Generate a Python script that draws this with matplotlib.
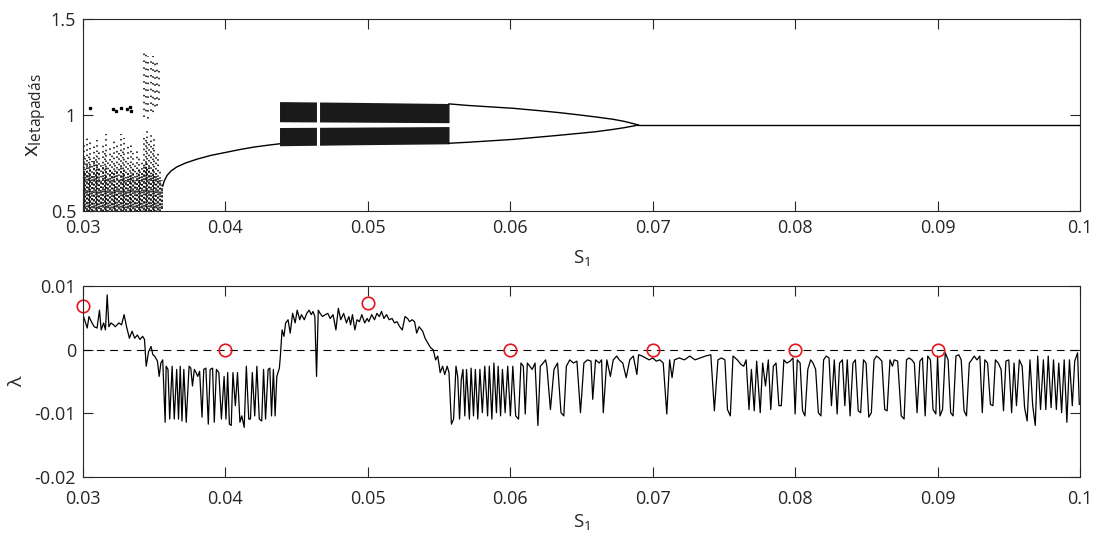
import numpy as np
import matplotlib
matplotlib.use('Agg')
import matplotlib.pyplot as plt

plt.rcParams['font.family'] = ['Open Sans', 'DejaVu Sans']
plt.rcParams['mathtext.default'] = 'regular'
plt.rcParams['axes.unicode_minus'] = False

# S1 values below are in units of 1e-3, lambda in units of 1e-3

# chaotic region: dotted columns (S1, top of sparse dots, top of dense part)
chaos_s = [30.05, 30.15, 30.28, 30.40, 30.52, 30.65, 30.78, 30.90, 31.02, 31.15,
           31.28, 31.40, 31.52, 31.65, 31.78, 31.90, 32.02, 32.15, 32.28, 32.40,
           32.52, 32.65, 32.78, 32.90, 33.02, 33.15, 33.28, 33.40, 33.52, 33.65,
           33.78, 33.90, 34.02, 34.15, 34.28, 34.40, 34.52, 34.65, 34.78, 34.90,
           35.02, 35.15, 35.28, 35.40, 35.52]
chaos_top = [0.85, 0.78, 0.88, 0.80, 0.86, 0.76, 0.84, 0.79, 0.87, 0.82,
             0.74, 0.85, 0.80, 0.90, 0.77, 0.84, 0.81, 0.88, 0.76, 0.85,
             0.80, 0.90, 0.82, 0.88, 0.78, 0.84, 0.76, 0.86, 0.80, 0.74,
             0.82, 0.78, 0.72, 0.76, 0.90, 0.88, 0.92, 0.86, 0.90, 0.84,
             0.88, 0.78, 0.80, 0.72, 0.66]
chaos_dense = [0.72, 0.70, 0.75, 0.70, 0.74, 0.68, 0.76, 0.70, 0.75, 0.72,
               0.66, 0.74, 0.68, 0.73, 0.66, 0.72, 0.70, 0.70, 0.64, 0.72,
               0.66, 0.74, 0.70, 0.72, 0.66, 0.70, 0.68, 0.70, 0.72, 0.66,
               0.70, 0.72, 0.66, 0.70, 0.74, 0.76, 0.72, 0.74, 0.70, 0.72,
               0.68, 0.70, 0.68, 0.66, 0.62]

# tall cluster of dots above 1
cluster_s = [34.30, 34.45, 34.60, 34.75, 34.90, 35.05, 35.20, 35.35]
cluster_lo = [0.99, 1.00, 0.98, 1.00, 1.01, 1.02, 1.04, 1.05]
cluster_hi = [1.34, 1.33, 1.31, 1.30, 1.31, 1.28, 1.27, 1.25]

# isolated dots near 1
iso_s = [30.49, 32.13, 32.30, 32.70, 33.07, 33.30, 33.40]
iso_x = [1.035, 1.03, 1.02, 1.035, 1.03, 1.04, 1.02]

# period-1 branch
p1_s = [35.6, 35.7, 35.9, 36.2, 36.6, 37.2, 38.0, 39.0, 40.0, 41.0, 42.0, 43.0, 43.8]
p1_x = [0.63, 0.655, 0.685, 0.71, 0.73, 0.75, 0.77, 0.79, 0.805, 0.82, 0.833, 0.843, 0.85]

# chaotic bands
band_s = [43.8, 49.0, 55.7]
band_up_top = [1.070, 1.066, 1.060]
band_up_bot = [0.965, 0.963, 0.960]
band_lo_top = [0.935, 0.937, 0.940]
band_lo_bot = [0.840, 0.845, 0.850]
band_gap_s = 46.5

# period-2 branches and fixed point
p2_s = [55.7, 57.0, 58.5, 60.2, 62.0, 63.5, 64.9, 66.0, 67.2, 68.0, 68.65, 69.0]
p2_up = [1.058, 1.05, 1.043, 1.035, 1.023, 1.012, 1.0, 0.99, 0.978, 0.967, 0.955, 0.948]
p2_lo = [0.853, 0.858, 0.865, 0.873, 0.885, 0.895, 0.905, 0.913, 0.925, 0.934, 0.943, 0.948]
fix_s = [69.0, 100.0]
fix_x = [0.948, 0.948]

# Lyapunov exponent
lam_s = [30.00, 30.30, 30.42, 30.59, 30.79, 30.99, 31.16, 31.28, 31.45, 31.58,
         31.70, 31.82, 31.97, 32.15, 32.27, 32.52, 32.71, 32.89, 33.06, 33.26,
         33.45, 33.63, 33.82, 34.00, 34.19, 34.32, 34.44, 34.61, 34.78, 34.91,
         35.03, 35.23, 35.35, 35.47, 35.60, 35.77, 35.84, 35.97, 36.09, 36.26,
         36.41, 36.58, 36.71, 36.83, 36.95, 37.08, 37.25, 37.45, 37.57, 37.69,
         37.82, 37.94, 38.06, 38.19, 38.36, 38.48, 38.63, 38.80, 38.93, 39.10,
         39.22, 39.37, 39.54, 39.72, 39.91, 40.04, 40.16, 40.28, 40.41, 40.53,
         40.70, 40.85, 41.02, 41.15, 41.32, 41.47, 41.64, 41.76, 41.89, 42.06,
         42.21, 42.38, 42.55, 42.68, 42.82, 43.00, 43.12, 43.24, 43.37, 43.49,
         43.61, 43.79, 43.86, 43.98, 44.11, 44.23, 44.40, 44.55, 44.72, 44.90,
         45.04, 45.22, 45.34, 45.54, 45.71, 45.88, 46.03, 46.15, 46.28, 46.40,
         46.52, 46.65, 46.82, 47.02, 47.19, 47.36, 47.56, 47.76, 47.93, 48.10,
         48.30, 48.50, 48.67, 48.79, 48.92, 49.09, 49.24, 49.41, 49.58, 49.78,
         49.95, 50.07, 50.27, 50.47, 50.64, 50.81, 50.96, 51.13, 51.31, 51.50,
         51.70, 51.87, 52.05, 52.24, 52.42, 52.61, 52.79, 52.93, 53.11, 53.28,
         53.43, 53.60, 53.85, 54.02, 54.22, 54.41, 54.59, 54.76, 54.91, 55.08,
         55.25, 55.40, 55.57, 55.70, 55.87, 56.02, 56.19, 56.31, 56.44, 56.56,
         56.68, 56.81, 56.93, 57.13, 57.25, 57.42, 57.55, 57.72, 57.87, 58.04,
         58.21, 58.41, 58.53, 58.71, 58.85, 59.03, 59.15, 59.32, 59.45, 59.64,
         59.82, 60.01, 60.18, 60.38, 60.58, 60.75, 60.92, 61.05, 61.20, 61.37,
         61.54, 61.74, 61.94, 62.11, 62.31, 62.48, 62.57, 62.82, 63.07, 63.32,
         63.56, 63.76, 63.94, 64.18, 64.43, 64.68, 64.93, 65.17, 65.42, 65.67,
         65.79, 65.99, 66.24, 66.41, 66.53, 66.78, 67.03, 67.23, 67.48, 67.65,
         67.90, 68.14, 68.39, 68.64, 68.89, 69.01, 69.26, 69.50, 69.75, 70.00,
         70.25, 70.50, 70.74, 70.99, 71.19, 71.36, 71.53, 71.86, 72.23, 72.60,
         72.97, 73.34, 73.71, 74.08, 74.33, 74.58, 74.83, 75.07, 75.25, 75.45,
         75.64, 75.94, 76.19, 76.39, 76.56, 76.76, 76.93, 77.13, 77.30, 77.55,
         77.72, 77.92, 78.12, 78.29, 78.47, 78.66, 78.86, 79.03, 79.21, 79.41,
         79.65, 79.85, 80.00, 80.15, 80.35, 80.52, 80.69, 80.89, 81.09, 81.26,
         81.44, 81.63, 81.81, 82.00, 82.18, 82.38, 82.55, 82.75, 82.95, 83.12,
         83.32, 83.49, 83.66, 83.86, 84.06, 84.23, 84.43, 84.60, 84.80, 84.98,
         85.17, 85.35, 85.54, 85.72, 85.89, 86.09, 86.29, 86.46, 86.66, 86.83,
         86.96, 87.20, 87.45, 87.65, 87.82, 88.00, 88.19, 88.37, 88.56, 88.76,
         88.94, 89.13, 89.31, 89.50, 89.68, 89.88, 90.00, 90.17, 90.35, 90.54,
         90.74, 90.92, 91.09, 91.29, 91.49, 91.66, 91.86, 92.03, 92.23, 92.40,
         92.57, 92.77, 92.97, 93.14, 93.32, 93.51, 93.71, 93.89, 94.06, 94.26,
         94.46, 94.63, 94.80, 95.00, 95.20, 95.37, 95.54, 95.74, 95.94, 96.11,
         96.29, 96.49, 96.68, 96.86, 97.03, 97.23, 97.43, 97.60, 97.77, 97.97,
         98.14, 98.34, 98.51, 98.71, 98.89, 99.08, 99.26, 99.46, 99.63, 99.83,
         99.95]
lam_v = [5.5, 3.4, 5.2, 4.4, 3.6, 3.4, 6.2, 3.1, 4.2, 3.1,
         8.6, 3.6, 4.2, 3.9, 3.6, 4.2, 3.9, 5.5, 3.6, 1.8,
         2.9, 1.8, 2.3, 1.6, 2.1, 1.6, -2.6, -0.3, 0.5, -0.8,
         -1.0, -1.8, -4.2, -2.1, -1.6, -11.4, -2.6, -3.1, -10.9, -2.6,
         -10.9, -3.1, -10.9, -2.6, -11.2, -3.1, -11.4, -2.6, -2.9, -5.7,
         -3.1, -3.6, -4.2, -3.4, -10.6, -3.1, -2.9, -11.7, -3.1, -2.9,
         -11.4, -3.1, -3.6, -10.9, -4.2, -10.9, -3.6, -11.7, -11.9, -3.6,
         -8.8, -3.6, -11.4, -10.4, -12.2, -2.6, -10.9, -10.9, -3.6, -10.4,
         -2.6, -10.9, -11.2, -3.1, -10.9, -3.1, -2.9, -10.4, -3.1, -10.4,
         -4.2, -2.9, -1.0, 3.1, 2.1, 4.2, 4.7, 2.6, 5.7, 4.2,
         6.2, 4.7, 5.5, 4.7, 5.7, 6.2, 5.5, 6.0, 5.2, -4.2,
         6.2, 5.7, 5.2, 5.5, 5.7, 4.9, 5.5, 3.1, 6.5, 4.7,
         5.7, 4.2, 5.2, 3.9, 5.5, 3.1, 4.7, 4.4, 5.5, 4.2,
         4.9, 4.4, 5.5, 4.7, 5.7, 5.2, 6.0, 4.9, 5.5, 4.7,
         4.9, 4.2, 4.4, 3.6, 3.1, 5.2, 4.9, 4.4, 4.7, 4.4,
         2.6, 3.6, 2.9, 1.8, 1.0, 0.3, 0.0, -1.6, -1.0, -3.6,
         -2.6, -3.9, -2.6, -3.6, -11.7, -10.9, -2.6, -4.2, -10.9, -4.7,
         -3.1, -10.4, -3.1, -10.9, -2.9, -10.4, -3.1, -10.9, -3.1, -9.9,
         -2.6, -10.4, -2.6, -10.9, -2.1, -9.9, -2.6, -10.4, -3.1, -9.9,
         -2.6, -10.4, -2.6, -10.4, -10.9, -2.1, -2.6, -10.1, -2.1, -2.6,
         -3.1, -2.1, -11.9, -2.6, -2.1, -1.6, -2.6, -9.4, -3.1, -2.1,
         -9.9, -10.4, -2.6, -1.6, -2.1, -1.8, -9.9, -2.1, -1.6, -1.8,
         -7.8, -1.6, -2.1, -1.6, -9.9, -1.6, -4.2, -1.6, -1.0, -1.6,
         -2.1, -4.4, -1.6, -1.0, -3.9, -0.8, -1.0, -1.3, -1.6, -1.3,
         -1.8, -1.6, -2.1, -10.1, -1.6, -4.4, -1.6, -1.3, -1.6, -1.0,
         -1.6, -1.3, -1.0, -0.8, -9.6, -1.6, -1.3, -1.6, -9.4, -10.4,
         -1.0, -1.6, -2.3, -2.6, -1.6, -9.4, -3.1, -9.6, -1.8, -9.9,
         -2.1, -5.7, -1.6, -9.4, -2.6, -2.1, -8.8, -8.8, -1.6, -2.1,
         -1.8, -1.3, -10.1, -1.6, -2.1, -9.6, -10.4, -3.1, -1.6, -2.1,
         -3.1, -9.9, -10.4, -1.6, -1.0, -1.3, -8.8, -1.6, -10.1, -2.1,
         -1.6, -8.8, -1.6, -10.4, -2.1, -1.6, -9.6, -9.9, -1.6, -2.1,
         -10.6, -9.9, -1.6, -1.0, -1.3, -1.8, -9.4, -9.6, -1.6, -2.6,
         -1.6, -1.8, -10.4, -10.9, -1.6, -1.3, -1.6, -2.1, -9.9, -1.8,
         -1.3, -10.4, -1.0, -1.6, -9.4, -10.1, -1.0, -10.4, -9.4, -0.5,
         -1.6, -9.9, -10.4, -1.0, -0.8, -1.6, -9.6, -10.4, -2.1, -1.6,
         -1.0, -1.6, -1.0, -9.9, -1.6, -2.1, -8.6, -8.8, -1.6, -2.1,
         -3.1, -9.6, -1.8, -1.6, -9.9, -2.1, -8.8, -1.6, -2.6, -9.1,
         -11.2, -1.6, -8.8, -11.9, -1.0, -9.4, -1.6, -9.4, -1.0, -9.1,
         -1.6, -9.4, -2.1, -9.9, -1.6, -11.4, -1.6, -8.8, -1.8, -0.5,
         -8.6]

# red markers
mark_s = [30, 40, 50, 60, 70, 80, 90]
mark_v = [6.9, 0, 7.3, 0, 0, 0, 0]

k = 1e-3
fig = plt.figure(figsize=(10.93, 5.39), dpi=100)
ax1 = fig.add_axes([0.0759, 0.6085, 0.9122, 0.3562])
ax2 = fig.add_axes([0.0759, 0.1150, 0.9122, 0.3544])

# ---- top: bifurcation diagram ----
for i, s in enumerate(chaos_s):
    off = (i * 1.3) % 3.5
    ax1.vlines(s * k, 0.5, chaos_top[i], colors='k', linewidth=1.1,
               linestyles=[(off, (1, 2.5))])
    ax1.vlines(s * k, 0.5, chaos_dense[i], colors='k', linewidth=1.1,
               linestyles=[(off, (1.2, 1.3))])
for i, s in enumerate(cluster_s):
    off = (i * 2.1) % 4.5
    ax1.vlines(s * k, cluster_lo[i], cluster_hi[i], colors='k', linewidth=1.1,
               linestyles=[(off, (1, 3.5))])
ax1.plot(np.array(iso_s) * k, iso_x, 'ks', markersize=1.4)
ax1.plot(np.array(p1_s) * k, p1_x, color='k', linewidth=1.0)

bs = np.array(band_s) * k
ax1.fill_between(bs, band_up_bot, band_up_top, color='0.1', linewidth=0)
ax1.fill_between(bs, band_lo_bot, band_lo_top, color='0.1', linewidth=0)
ax1.vlines([band_gap_s * k], 0.83, 1.08, colors='white', linewidth=2.2)

ax1.plot(np.array(p2_s) * k, p2_up, color='k', linewidth=1.0)
ax1.plot(np.array(p2_s) * k, p2_lo, color='k', linewidth=1.0)
ax1.plot(np.array(fix_s) * k, fix_x, color='k', linewidth=1.0)

ax1.set_xlim(0.03, 0.1)
ax1.set_ylim(0.5, 1.5)
ax1.set_yticks([0.5, 1, 1.5])
ax1.set_yticklabels(['0.5', '1', '1.5'])
ax1.set_ylabel('x$_{letapadás}$', fontsize=16, labelpad=1, color='#262626')
ax1.set_xlabel('S$_1$', fontsize=13.5, labelpad=8, color='#262626')

# ---- bottom: Lyapunov exponent ----
ax2.axhline(0, color='k', linewidth=0.8, dashes=(7, 5))
ax2.plot(np.array(lam_s) * k, np.array(lam_v) * k, color='k', linewidth=0.9)
ax2.plot(np.array(mark_s) * k, np.array(mark_v) * k, 'o', mfc='none', mec='#e8141c',
         markersize=9, mew=1.2, clip_on=False)
ax2.set_xlim(0.03, 0.1)
ax2.set_ylim(-0.02, 0.01)
ax2.set_yticks([-0.02, -0.01, 0, 0.01])
ax2.set_yticklabels(['-0.02', '-0.01', '0', '0.01'])
ax2.set_ylabel('λ', fontsize=14, labelpad=6, color='#262626')
ax2.set_xlabel('S$_1$', fontsize=13.5, labelpad=3, color='#262626')

xt = [0.03, 0.04, 0.05, 0.06, 0.07, 0.08, 0.09, 0.1]
for ax, p in ((ax1, 6), (ax2, 9)):
    ax.set_xticks(xt)
    ax.set_xticklabels(['%g' % v for v in xt])
    ax.tick_params(direction='in', length=7, width=0.8, top=True, right=True,
                   labelsize=13, colors='#262626')
    ax.tick_params(axis='x', pad=p)
    ax.tick_params(axis='y', pad=5)
    for sp in ax.spines.values():
        sp.set_color('#262626')
        sp.set_linewidth(0.8)

fig.savefig('out.png', dpi=100)
